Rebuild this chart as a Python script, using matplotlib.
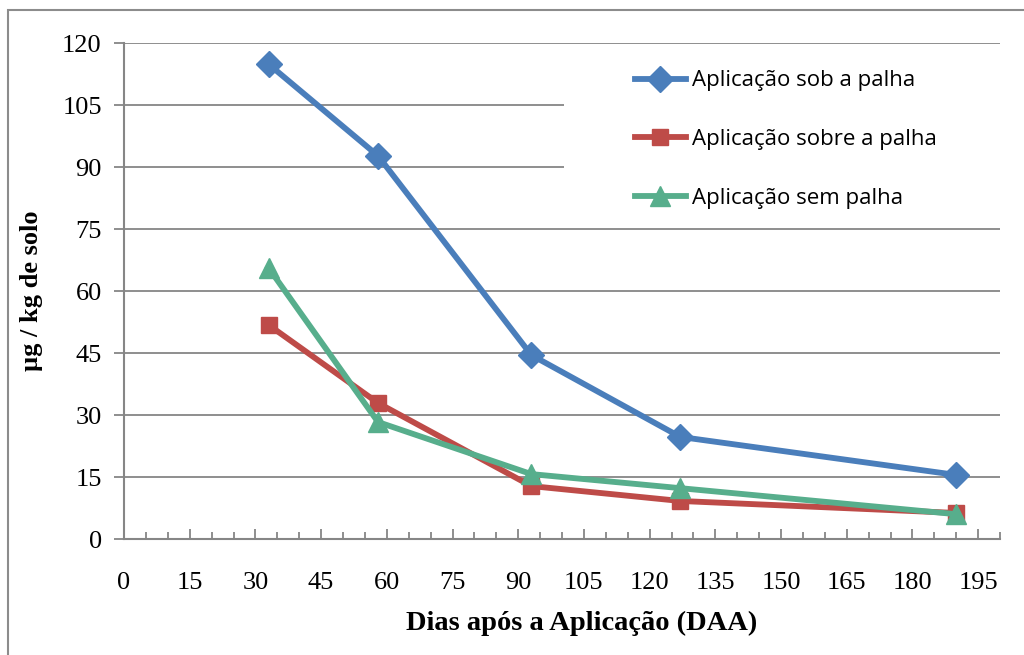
import matplotlib.pyplot as plt
from matplotlib.patches import Rectangle
from matplotlib.ticker import MultipleLocator

# dias apos a aplicacao
dias = [33, 58, 93, 127, 190]
sob_palha = [114.9, 92.7, 44.5, 24.7, 15.5]
sobre_palha = [51.8, 32.9, 12.8, 9.2, 6.3]
sem_palha = [65.6, 28.3, 15.7, 12.3, 6.0]

fig = plt.figure(figsize=(10.24, 6.55), dpi=100)
ax = fig.add_axes([124/1024, 1 - 539/655, 876/1024, 496/655])

# moldura externa
fig.patches.append(Rectangle((8/1024, -0.1), 1.2, 1 - 10/655 + 0.1, transform=fig.transFigure,
                             fill=False, edgecolor='#8c8c8c', linewidth=1.5))

cinza = '#868686'
ax.plot(dias, sob_palha, color='#4A7EBB', lw=4.2, marker='D', ms=13, label='Aplicação sob a palha')
ax.plot(dias, sobre_palha, color='#BE4B48', lw=4.2, marker='s', ms=12, label='Aplicação sobre a palha')
ax.plot(dias, sem_palha, color='#57AE8C', lw=4.2, marker='^', ms=15, label='Aplicação sem palha')

ax.set_ylim(0, 120)
ax.xaxis.set_minor_locator(MultipleLocator(5))
ax.yaxis.set_major_locator(MultipleLocator(15))
ax.set_xticks(range(0, 196, 15))
ax.set_xlim(0, 200)

ax.grid(axis='y', color=cinza, lw=1.3)
ax.set_axisbelow(True)
for s in ['top', 'right']:
    ax.spines[s].set_visible(False)
for s in ['left', 'bottom']:
    ax.spines[s].set_color(cinza)
    ax.spines[s].set_linewidth(1.5)

ax.tick_params(axis='x', which='major', direction='in', length=7, width=1.3, color=cinza, pad=24)
ax.tick_params(axis='x', which='minor', direction='in', length=5, width=1.3, color=cinza)
ax.tick_params(axis='y', which='major', direction='out', length=7, width=1.3, color=cinza, pad=9)
for lab in ax.get_xticklabels() + ax.get_yticklabels():
    lab.set_fontfamily('Liberation Serif')
    lab.set_fontsize(19)

ax.set_xlabel('Dias após a Aplicação (DAA)', fontfamily='Liberation Serif', fontsize=20.5,
              fontweight='bold')
ax.xaxis.set_label_coords(0.522, -0.145)
ax.set_ylabel('µg / kg de solo', fontfamily='Liberation Serif', fontsize=19,
              fontweight='bold', labelpad=14)

# fundo branco da legenda cobre as linhas de grade
ax.add_patch(Rectangle((100.5, 89), 100, 30.7, facecolor='white', edgecolor='none', zorder=1.5))
leg = ax.legend(loc='upper left', bbox_to_anchor=(0.56, 0.985), frameon=False,
                prop={'family': 'Open Sans', 'size': 16}, labelspacing=1.7,
                handlelength=2.3, handletextpad=0.3)

fig.savefig('out.png', dpi=100)
